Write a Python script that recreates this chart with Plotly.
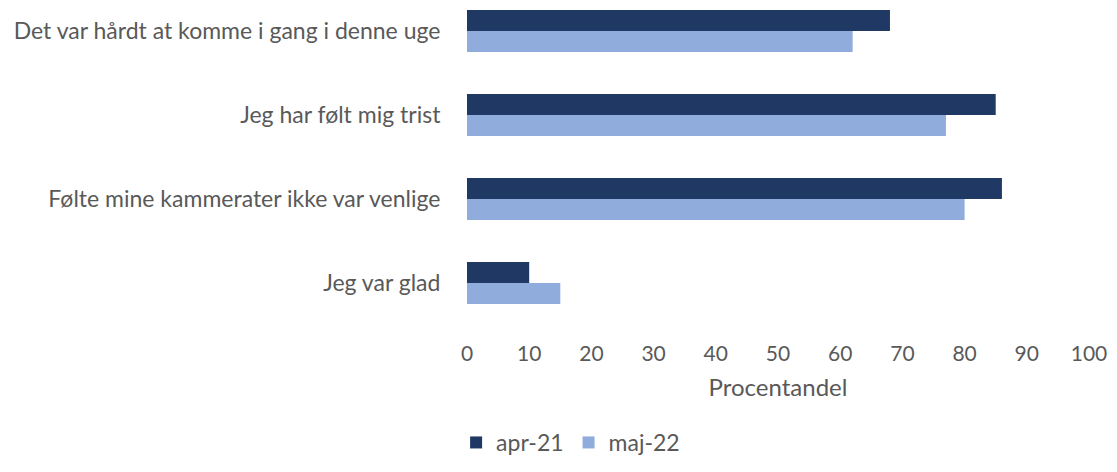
import plotly.graph_objects as go

categories = [
    "Jeg var glad",
    "Følte mine kammerater ikke var venlige",
    "Jeg har følt mig trist",
    "Det var hårdt at komme i gang i denne uge",
]
apr_21 = [10, 86, 85, 68]
maj_22 = [15, 80, 77, 62]

fig = go.Figure()
# maj-22 first so that apr-21 sits on top in each group
fig.add_trace(go.Bar(y=categories, x=maj_22, name="maj-22", orientation="h",
                     marker=dict(color="#8FACDC", line=dict(width=0)), legendrank=2))
fig.add_trace(go.Bar(y=categories, x=apr_21, name="apr-21", orientation="h",
                     marker=dict(color="#1F3864", line=dict(width=0)), legendrank=1))

# page has an 8px body margin, so the figure is sized to fit inside the window
fig.update_layout(
    width=1101, height=456,
    barmode="group", bargap=0.5, bargroupgap=0,
    plot_bgcolor="white", paper_bgcolor="white",
    font=dict(family="Lato, Open Sans, sans-serif", size=23, color="#595959"),
    margin=dict(l=459, r=20, t=0, b=139),
    xaxis=dict(range=[0, 100], dtick=10, showgrid=False, zeroline=False, showline=False,
               automargin=False, ticks="outside", ticklen=10, tickcolor="white",
               ticklabeloverflow="allow",
               title=dict(text="Procentandel", standoff=14, font=dict(size=24)),
               tickfont=dict(size=21, color="#595959")),
    yaxis=dict(range=[-0.5, 3.274], showgrid=False, zeroline=False, showline=False,
               automargin=False, ticks="outside", ticklen=21, tickcolor="white",
               tickfont=dict(size=23, color="#595959")),
    legend=dict(orientation="h", xref="container", x=0.511, xanchor="center",
                yref="container", y=0.0, yanchor="bottom",
                font=dict(size=23, color="#595959")),
    showlegend=True,
)

fig.write_html("out.html")
